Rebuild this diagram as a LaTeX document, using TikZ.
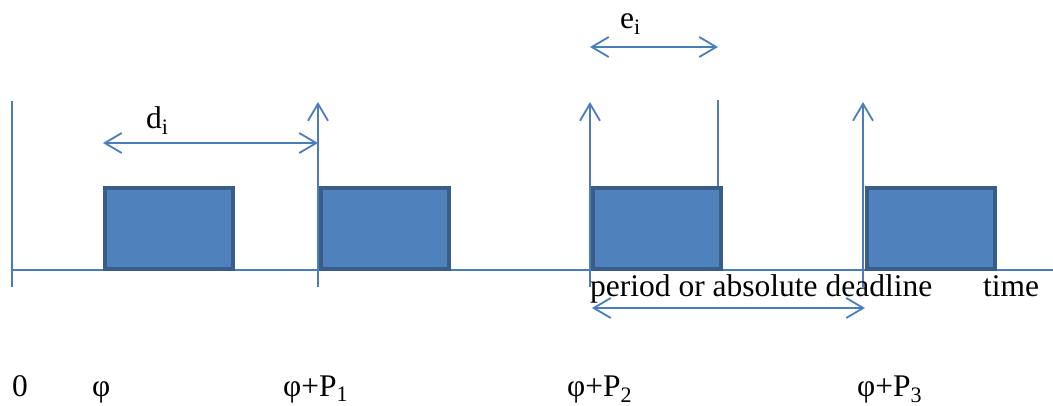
\documentclass[tikz,border=0pt]{standalone}
\usepackage{fontspec}
\setmainfont{Liberation Serif}
\usetikzlibrary{arrows.meta}
\definecolor{lineblue}{HTML}{4A7EBB}
\definecolor{boxfill}{HTML}{4F81BD}
\definecolor{boxedge}{HTML}{385D8A}
\begin{document}
\begin{tikzpicture}[x=1pt,y=-1pt,
  conn/.style={draw=lineblue,line width=1.8pt},
  barb/.style={conn,-{Straight Barb[length=17pt,width=20pt,line width=1.8pt]}},
  dbarb/.style={conn,{Straight Barb[length=17pt,width=20pt,line width=1.8pt]}-{Straight Barb[length=17pt,width=20pt,line width=1.8pt]}},
  jobbox/.style={draw=boxedge,fill=boxfill,line width=4pt,minimum width=128pt,minimum height=81pt,anchor=south west,inner sep=0pt},
  lbl/.style={font=\fontsize{31.5}{36}\selectfont,inner sep=0pt,anchor=base west}]
\useasboundingbox (0,0) rectangle (1053,405);
% axes
\coordinate (ytop) at (12,101);
\coordinate (ybot) at (12,287);
\coordinate (xl) at (12,270);
\coordinate (xr) at (1053,270);
\draw[conn] (ytop) -- (ybot);
\draw[conn] (xl) -- (xr);
% release arrows and deadline line
\coordinate (r1b) at (318,287); \coordinate (r1t) at (318,102);
\coordinate (r2b) at (590,287); \coordinate (r2t) at (590,102);
\coordinate (r3b) at (863,287); \coordinate (r3t) at (863,102);
\coordinate (ebot) at (718,270); \coordinate (etop) at (718,100);
\draw[barb] (r1b) -- (r1t);
\draw[barb] (r2b) -- (r2t);
\draw[barb] (r3b) -- (r3t);
\draw[conn] (ebot) -- (etop);
% job boxes
\node[jobbox] (b1) at (103,271) {};
\node[jobbox] (b2) at (319,271) {};
\node[jobbox] (b3) at (591,271) {};
\node[jobbox] (b4) at (865,271) {};
% dimension arrows
\coordinate (dl) at (103,143); \coordinate (dr) at (318,143);
\draw[dbarb] (dl) -- (dr);
\coordinate (el) at (590,47); \coordinate (er) at (718,47);
\draw[dbarb] (el) -- (er);
\coordinate (pl) at (592,308); \coordinate (pr) at (865,308);
\draw[dbarb] (pl) -- (pr);
% labels
\node[lbl] (ldi) at (146,128) {d\textsubscript{i}};
\node[lbl] (lei) at (620,28) {e\textsubscript{i}};
\node[lbl] (lper) at (590,296) {period or absolute deadline};
\node[lbl] (ltime) at (983,296) {time};
\node[lbl] (l0) at (12,396) {0};
\node[lbl] (lphi) at (92,396) {φ};
\node[lbl] (lp1) at (283,396) {φ+P\textsubscript{1}};
\node[lbl] (lp2) at (567,396) {φ+P\textsubscript{2}};
\node[lbl] (lp3) at (857,396) {φ+P\textsubscript{3}};
\end{tikzpicture}
\end{document}
